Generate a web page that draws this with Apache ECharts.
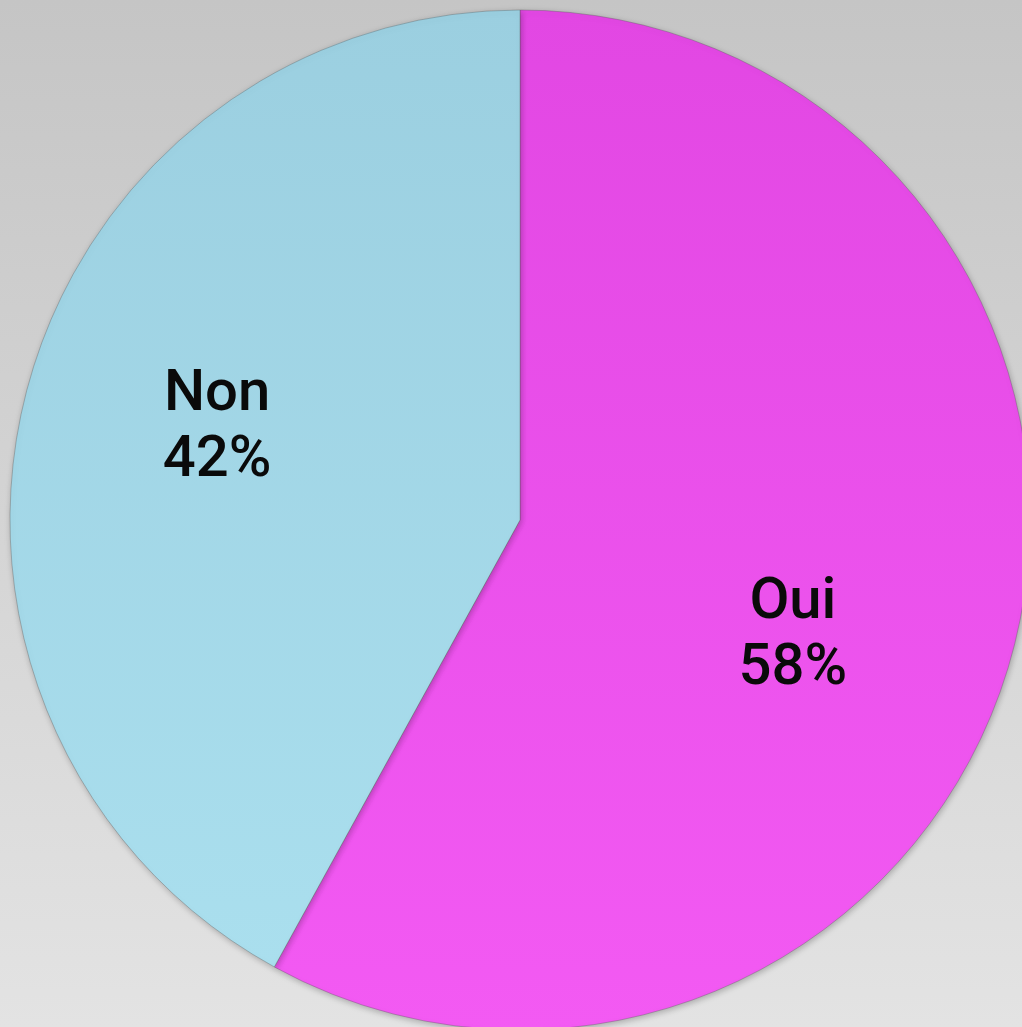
<!DOCTYPE html>
<html>
<head>
<meta charset="utf-8">
<script src="https://cdn.jsdelivr.net/npm/echarts@6/dist/echarts.min.js"></script>
<style>
html,body{margin:0;padding:0;width:1022px;height:1027px;overflow:hidden;}
#chart{width:1022px;height:1027px;}
</style>
</head>
<body>
<div id="chart"></div>
<script>
const categories = ["Oui", "Non"];
const values = [58, 42];

const styles = {
  Oui: {
    color: new echarts.graphic.LinearGradient(0, 0, 0, 1, [
      {offset: 0, color: '#e247e3'}, {offset: 1, color: '#f35af3'}
    ]),
    labelOffset: [23, 52]
  },
  Non: {
    color: new echarts.graphic.LinearGradient(0, 0, 0, 1, [
      {offset: 0, color: '#9bcfe0'}, {offset: 1, color: '#aadfee'}
    ]),
    labelOffset: [-53, -27]
  }
};

const chart = echarts.init(document.getElementById('chart'), null, {renderer: 'canvas'});
chart.setOption({
  animation: false,
  backgroundColor: new echarts.graphic.LinearGradient(0, 0, 0, 1, [
    {offset: 0, color: '#c5c5c5'}, {offset: 1, color: '#e3e3e3'}
  ]),
  series: [{
    type: 'pie',
    center: [520, 520],
    radius: 510,
    startAngle: 90,
    clockwise: true,
    silent: true,
    itemStyle: {
      borderColor: 'rgba(90,90,90,0.35)',
      borderWidth: 1,
      shadowColor: 'rgba(0,0,0,0.25)',
      shadowBlur: 6,
      shadowOffsetX: 1,
      shadowOffsetY: 2
    },
    label: {
      show: true,
      position: 'inside',
      formatter: '{b}\n{d}%',
      color: '#0a0a0a',
      fontFamily: 'Roboto',
      fontWeight: 500,
      fontSize: 58,
      lineHeight: 66,
      align: 'center'
    },
    labelLine: {show: false},
    data: categories.map((c, i) => ({
      name: c,
      value: values[i],
      itemStyle: {color: styles[c].color},
      label: {offset: styles[c].labelOffset}
    }))
  }]
});
</script>
</body>
</html>
